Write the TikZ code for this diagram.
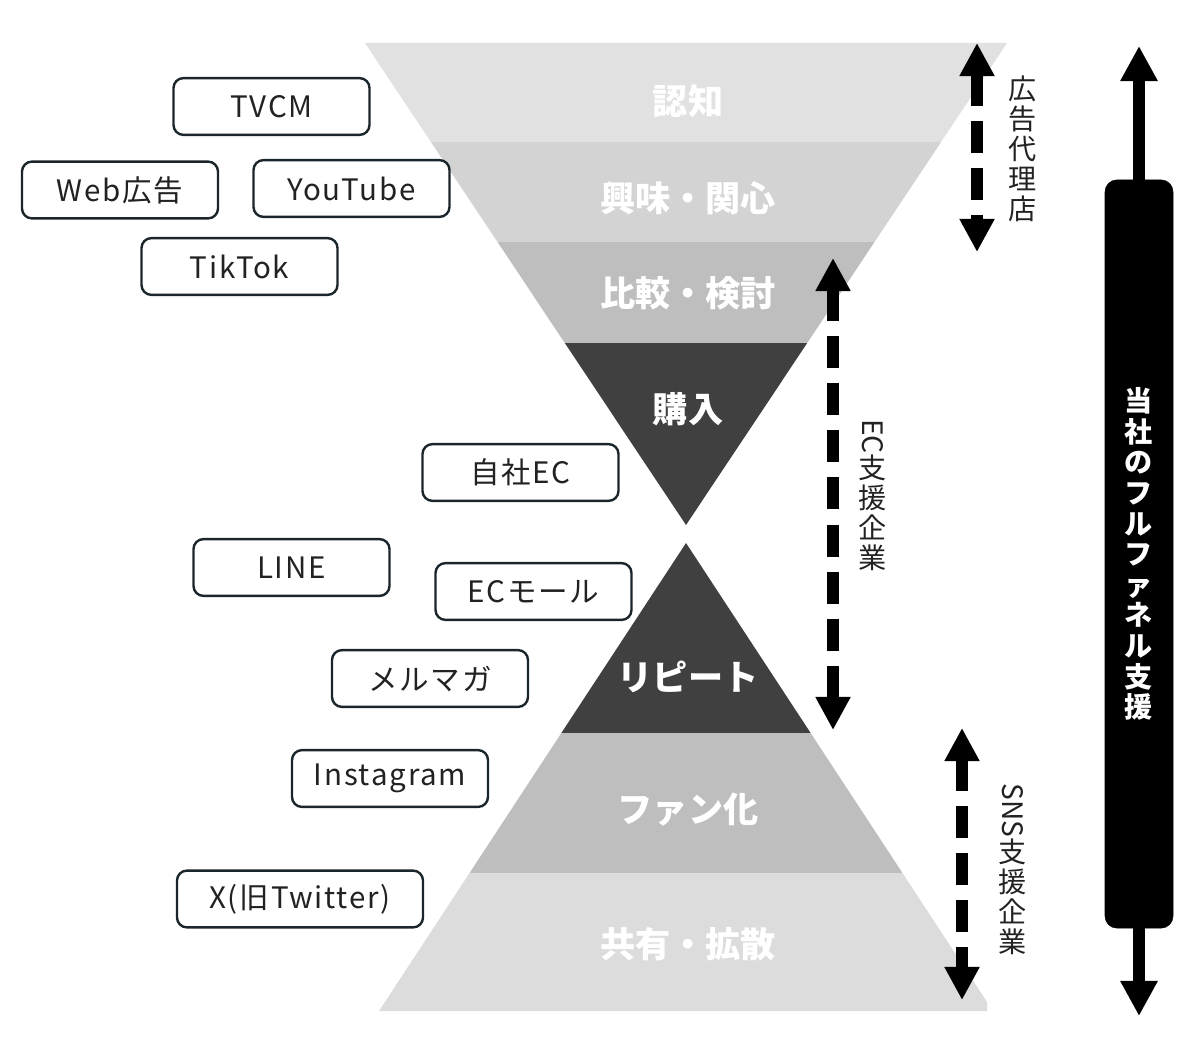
\documentclass[tikz,border=0pt]{standalone}
\usepackage{fontspec}
\setmainfont{Noto Sans CJK JP}
\usetikzlibrary{arrows.meta}
\definecolor{bandA}{HTML}{E1E1E1}
\definecolor{bandB}{HTML}{D3D3D3}
\definecolor{bandC}{HTML}{BEBEBE}
\definecolor{bandD}{HTML}{404040}
\definecolor{bandE}{HTML}{DCDCDC}
\definecolor{boxline}{HTML}{1A262C}
\definecolor{inktext}{HTML}{222222}
\tikzset{
  stage/.style={text=white, font=\bfseries\fontsize{25}{28}\selectfont, inner sep=0pt},
  media/.style={draw=boxline, line width=1.7pt, rounded corners=0.25cm, fill=white,
    minimum width=4.9cm, minimum height=1.42cm, text=inktext,
    font=\fontsize{21}{24}\selectfont\addfontfeatures{LetterSpace=6}, inner sep=0pt},
  vlabel/.style={text=inktext, align=center, font=\fontsize{20}{21.3}\selectfont, inner sep=0pt},
  dasharrow/.style={line width=8.5pt, dash pattern=on 22.8pt off 10.7pt,
    {Triangle[width=23.5pt,length=23.5pt]}-{Triangle[width=23.5pt,length=23.5pt]}},
  solidtip/.style={line width=8.5pt, -{Triangle[width=25pt,length=25pt]}},
  fullbox/.style={fill=black, draw=black, rounded corners=0.3cm, minimum width=1.7cm,
    minimum height=18.7cm, text=white, align=center,
    font=\bfseries\fontsize{20}{21.8}\selectfont, inner sep=0pt}
}
\begin{document}
\begin{tikzpicture}[x=0.025cm,y=-0.025cm]
\useasboundingbox (0,0) rectangle (1200,1050);
% upper funnel
\begin{scope}
  \clip (365,43) -- (1007,43) -- (686,525) -- cycle;
  \fill[bandA] (300,30) rectangle (1100,142.5);
  \fill[bandB] (300,142.5) rectangle (1100,242);
  \fill[bandC] (300,242) rectangle (1100,343);
  \fill[bandD] (300,343) rectangle (1100,540);
\end{scope}
% lower funnel
\begin{scope}
  \clip (686,543) -- (993,1011) -- (379,1011) -- cycle;
  \clip (0,0) rectangle (987,1050);
  \fill[bandD] (300,530) rectangle (1100,733);
  \fill[bandC] (300,733) rectangle (1100,873);
  \fill[bandE] (300,873) rectangle (1100,1020);
\end{scope}
% stage labels
\node[stage] (s1) at (688,101) {認知};
\node[stage] (s2) at (688,198) {興味・関心};
\node[stage] (s3) at (688,293) {比較・検討};
\node[stage] (s4) at (688,409) {購入};
\node[stage] (s5) at (688,677) {リピート};
\node[stage] (s6) at (688,810) {ファン化};
\node[stage] (s7) at (688,944) {共有・拡散};
% media boxes
\node[media] (tvcm) at (271.5,106.5) {TVCM};
\node[media] (web) at (120,190) {Web広告};
\node[media] (yt) at (351.5,188.5) {YouTube};
\node[media] (tt) at (239.5,266.5) {TikTok};
\node[media] (ec) at (520.5,472.5) {自社EC};
\node[media] (line) at (291.5,567.5) {LINE};
\node[media] (mall) at (533.5,591.5) {ECモール};
\node[media] (mag) at (430,678.5) {メルマガ};
\node[media] (insta) at (390,778.5) {Instagram};
\node[media, minimum width=6.15cm] (xtw) at (300,899) {X(旧Twitter)};
% dashed double arrows
\coordinate (adTop) at (977,43);
\coordinate (adBot) at (977,252);
\draw[dasharrow] (adTop) -- (adBot);
\coordinate (ecTop) at (833,258);
\coordinate (ecBot) at (833,730);
\draw[dasharrow] (ecTop) -- (ecBot);
\coordinate (snsTop) at (962,728);
\coordinate (snsBot) at (962,1000);
\draw[dasharrow] (snsTop) -- (snsBot);
% vertical labels
\node[vlabel] (adLab) at (1023,149) {広\\告\\代\\理\\店};
\node[vlabel] (ecLab) at (873,495) {\rotatebox[origin=c]{-90}{EC}\\支\\援\\企\\業};
\node[vlabel] (snsLab) at (1013,869) {\rotatebox[origin=c]{-90}{SNS}\\支\\援\\企\\業};
% full funnel support
\node[fullbox] (full) at (1139,554) {当\\社\\の\\フ\\ル\\フ\\ァ\\ネ\\ル\\支\\援};
\coordinate (fullTop) at (1139,46);
\coordinate (fullBot) at (1139,1016);
\draw[solidtip] (full.north) -- (fullTop);
\draw[solidtip] (full.south) -- (fullBot);
\end{tikzpicture}
\end{document}
